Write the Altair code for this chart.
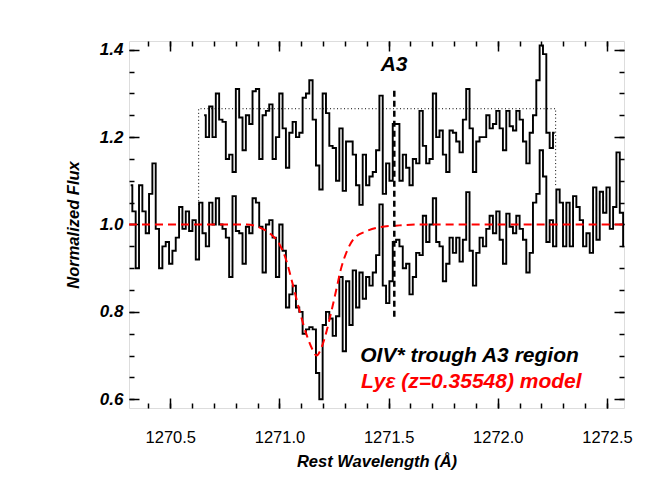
import altair as alt
import pandas as pd

# ---------------- data ----------------
WAVE_START = 1270.311   # left edge of first bin (Angstrom)
BIN_WIDTH = 0.01529     # spectral bin width (Angstrom)

LOWER_FLUX = [
    1.09, 1.03, 0.90, 1.09, 1.03, 0.98, 1.07, 1.14, 0.99, 0.90,
    0.95, 0.96, 0.91, 0.94, 0.97, 1.04, 0.99, 1.03, 0.985, 1.01,
    0.92, 1.05, 0.98, 0.95, 1.05, 1.00, 1.06, 1.00, 0.99, 0.97,
    0.88, 1.065, 0.985, 0.98, 0.91, 0.995, 0.98, 1.06, 1.05, 0.995,
    0.89, 1.00, 1.01, 0.97, 0.88, 1.00, 0.94, 0.81, 0.84, 0.86,
    0.81, 0.80, 0.75, 0.76, 0.765, 0.76, 0.66, 0.60, 0.77, 0.80,
    0.785, 0.745, 0.79, 0.88, 0.71, 0.87, 0.77, 0.895, 0.81, 0.89,
    0.83, 0.88, 0.86, 0.89, 0.93, 1.046, 0.86, 0.82, 0.87, 0.96,
    0.965, 0.95, 0.90, 0.91, 0.84, 0.88, 0.935, 0.93, 1.02, 0.96,
    1.00, 1.06, 0.96, 0.95, 0.87, 0.91, 0.97, 0.935, 0.97, 0.915,
    0.965, 1.074, 0.94, 0.86, 0.935, 0.97, 0.95, 0.99, 1.02, 0.98,
    1.03, 0.965, 0.91, 1.025, 0.995, 0.98, 1.02, 0.99, 0.965, 0.89,
    0.935, 1.05, 1.07, 1.17, 1.11, 0.96, 1.01, 0.95, 1.08, 1.05,
    0.95, 1.05, 0.95, 1.065, 1.04, 1.01, 0.95, 0.98, 0.935, 1.085,
    0.965, 1.075, 1.027, 1.085, 0.99, 1.04, 1.165, 1.027, 0.95, 1.01,
]

UPPER_START_BIN = 22
UPPER_FLUX = [
    1.25, 1.20, 1.27, 1.20, 1.30, 1.24, 1.235, 1.15, 1.16, 1.12,
    1.31, 1.245, 1.17, 1.25, 1.23, 1.305, 1.31, 1.15, 1.25, 1.26,
    1.275, 1.15, 1.20, 1.30, 1.22, 1.13, 1.21, 1.235, 1.20, 1.21,
    1.29, 1.30, 1.33, 1.24, 1.135, 1.08, 1.30, 1.255, 1.18, 1.175,
    1.10, 1.22, 1.077, 1.19, 1.19, 1.16, 1.09, 1.045, 1.16, 1.09,
    1.11, 1.12, 1.17, 1.295, 1.07, 1.14, 1.10, 1.23, 1.23, 1.10,
    1.16, 1.13, 1.09, 1.15, 1.14, 1.26, 1.18, 1.14, 1.15, 1.30,
    1.20, 1.215, 1.16, 1.12, 1.215, 1.21, 1.19, 1.165, 1.24, 1.31,
    1.22, 1.12, 1.19, 1.20, 1.20, 1.25, 1.22, 1.23, 1.26, 1.22,
    1.17, 1.26, 1.225, 1.215, 1.26, 1.24, 1.19, 1.14, 1.21, 1.25,
    1.33, 1.41, 1.39, 1.21, 1.175, 1.21,
]

MODEL_WAVE = [1270.311, 1270.85, 1270.91, 1270.96, 1271.00, 1271.03, 1271.06,
              1271.095, 1271.126, 1271.15, 1271.17, 1271.19, 1271.21, 1271.235,
              1271.26, 1271.28, 1271.31, 1271.34, 1271.40, 1271.45, 1271.55,
              1271.65, 1272.578]
MODEL_FLUX = [1.0, 1.0, 0.993, 0.978, 0.955, 0.92, 0.865,
              0.797, 0.745, 0.715, 0.70, 0.715, 0.745, 0.795,
              0.85, 0.895, 0.94, 0.967, 0.985, 0.993, 0.998,
              1.0, 1.0]

BOX_WAVE = [1270.63, 1270.63, 1272.265, 1272.265]
BOX_FLUX = [1.045, 1.265, 1.265, 1.088]

MARKER_WAVE = [1271.526]
MARKER_LOW = [0.789]
MARKER_HIGH = [1.31]

LABEL_TEXT = ["OIV* trough A3 region", "Ly\u03b5 (z=0.35548) model"]
LABEL_WAVE = [1271.37, 1271.373]
LABEL_FLUX = [0.699, 0.639]
LABEL_COLOR = ["black", "red"]

A3_TEXT = ["A3"]
A3_WAVE = [1271.525]
A3_FLUX = [1.365]

X_DOMAIN = [1270.311, 1272.578]
Y_DOMAIN = [0.58, 1.42]
X_MAJOR = [1270.5, 1271.0, 1271.5, 1272.0, 1272.5]
X_MINOR = [1270.4, 1270.5, 1270.6, 1270.7, 1270.8, 1270.9, 1271.0, 1271.1,
           1271.2, 1271.3, 1271.4, 1271.5, 1271.6, 1271.7, 1271.8, 1271.9,
           1272.0, 1272.1, 1272.2, 1272.3, 1272.4, 1272.5]
Y_MAJOR = [0.6, 0.8, 1.0, 1.2, 1.4]
Y_MINOR = [0.6, 0.65, 0.7, 0.75, 0.8, 0.85, 0.9, 0.95, 1.0, 1.05, 1.1,
           1.15, 1.2, 1.25, 1.3, 1.35, 1.4]

# ---------------- tables ----------------
lower_df = pd.DataFrame({
    "wave": [WAVE_START + (i + 0.5) * BIN_WIDTH for i in range(len(LOWER_FLUX))],
    "flux": LOWER_FLUX,
})
upper_df = pd.DataFrame({
    "wave": [WAVE_START + (UPPER_START_BIN + i + 0.5) * BIN_WIDTH for i in range(len(UPPER_FLUX))],
    "flux": UPPER_FLUX,
})
model_df = pd.DataFrame({"wave": MODEL_WAVE, "flux": MODEL_FLUX})
box_df = pd.DataFrame({"wave": BOX_WAVE, "flux": BOX_FLUX, "order": list(range(len(BOX_WAVE)))})
marker_df = pd.DataFrame({"wave": MARKER_WAVE, "lo": MARKER_LOW, "hi": MARKER_HIGH})
label_df = pd.DataFrame({"text": LABEL_TEXT, "wave": LABEL_WAVE, "flux": LABEL_FLUX, "color": LABEL_COLOR})
a3_df = pd.DataFrame({"text": A3_TEXT, "wave": A3_WAVE, "flux": A3_FLUX})
anchor_df = pd.DataFrame({"wave": [1271.5], "flux": [1.0]})

FONT = "Liberation Sans"
xs = alt.Scale(domain=X_DOMAIN, nice=False, zero=False)
ys = alt.Scale(domain=Y_DOMAIN, nice=False, zero=False)


def X(field="wave", axis=None):
    return alt.X(f"{field}:Q", scale=xs, axis=axis)


def Y(field="flux", axis=None):
    return alt.Y(f"{field}:Q", scale=ys, axis=axis)


lower = alt.Chart(lower_df).mark_line(
    interpolate="step", color="black", strokeWidth=1.9, clip=True
).encode(x=X(), y=Y())

upper = alt.Chart(upper_df).mark_line(
    interpolate="step", color="black", strokeWidth=1.9, clip=True
).encode(x=X(), y=Y())

model = alt.Chart(model_df).mark_line(
    interpolate="monotone", color="#ff0000", strokeWidth=2, strokeDash=[8, 5], clip=True
).encode(x=X(), y=Y())

box = alt.Chart(box_df).mark_line(
    color="black", strokeWidth=1, strokeDash=[1, 2.5], clip=True
).encode(x=X(), y=Y(), order="order:Q")

marker = alt.Chart(marker_df).mark_rule(
    color="black", strokeWidth=2.5, strokeDash=[6, 4]
).encode(x=X(), y=Y("lo"), y2="hi:Q")

labels = alt.Chart(label_df).mark_text(
    align="left", baseline="middle", font=FONT, fontSize=21,
    fontWeight="bold", fontStyle="italic"
).encode(x=X(), y=Y(), text="text:N",
         color=alt.Color("color:N", scale=None))

a3 = alt.Chart(a3_df).mark_text(
    align="center", baseline="middle", font=FONT, fontSize=21,
    fontWeight="bold", fontStyle="italic", color="black"
).encode(x=X(), y=Y(), text="text:N")

common = dict(domain=False, grid=False, tickColor="black", tickWidth=1.5)

ax_major_bl = alt.Chart(anchor_df).mark_point(opacity=0).encode(
    x=X(axis=alt.Axis(orient="bottom", values=X_MAJOR, format=".1f", offset=-10,
                      tickSize=10, labelPadding=21, labelFont=FONT, labelFontSize=16.5,
                      labelColor="black", title="Rest Wavelength (\u00c5)",
                      titleFont=FONT, titleFontSize=16.5, titleFontWeight="bold",
                      titleFontStyle="italic", titleColor="black", titlePadding=8,
                      **common)),
    y=Y(axis=alt.Axis(orient="left", values=Y_MAJOR, format=".1f", offset=-10,
                      tickSize=10, labelPadding=6, labelFont=FONT, labelFontSize=17,
                      labelFontWeight="bold", labelFontStyle="italic", labelColor="black",
                      title="Normalized Flux", titleFont=FONT, titleFontSize=16.5,
                      titleFontWeight="bold", titleFontStyle="italic", titleColor="black",
                      titlePadding=18, **common)),
)

ax_minor_bl = alt.Chart(anchor_df).mark_point(opacity=0).encode(
    x=X(axis=alt.Axis(orient="bottom", values=X_MINOR, offset=-5, tickSize=5,
                      labels=False, title=None, **common)),
    y=Y(axis=alt.Axis(orient="left", values=Y_MINOR, offset=-5, tickSize=5,
                      labels=False, title=None, **common)),
)

ax_major_tr = alt.Chart(anchor_df).mark_point(opacity=0).encode(
    x=X(axis=alt.Axis(orient="top", values=X_MAJOR, offset=-10, tickSize=10,
                      labels=False, title=None, **common)),
    y=Y(axis=alt.Axis(orient="right", values=Y_MAJOR, offset=-10, tickSize=10,
                      labels=False, title=None, **common)),
)

ax_minor_tr = alt.Chart(anchor_df).mark_point(opacity=0).encode(
    x=X(axis=alt.Axis(orient="top", values=X_MINOR, offset=-5, tickSize=5,
                      labels=False, title=None, **common)),
    y=Y(axis=alt.Axis(orient="right", values=Y_MINOR, offset=-5, tickSize=5,
                      labels=False, title=None, **common)),
)

chart = alt.layer(
    ax_major_bl, ax_minor_bl, ax_major_tr, ax_minor_tr,
    box, upper, lower, model, marker, labels, a3,
).resolve_scale(x="independent", y="independent").properties(
    width=495, height=367,
    autosize=alt.AutoSizeParams(type="none"),
    padding={"left": 121, "top": 33, "right": 33, "bottom": 74},
).configure_view(stroke="black", strokeWidth=1.5).configure(background="white")

chart.save("out.html", embed_options={"renderer": "svg", "actions": False})
